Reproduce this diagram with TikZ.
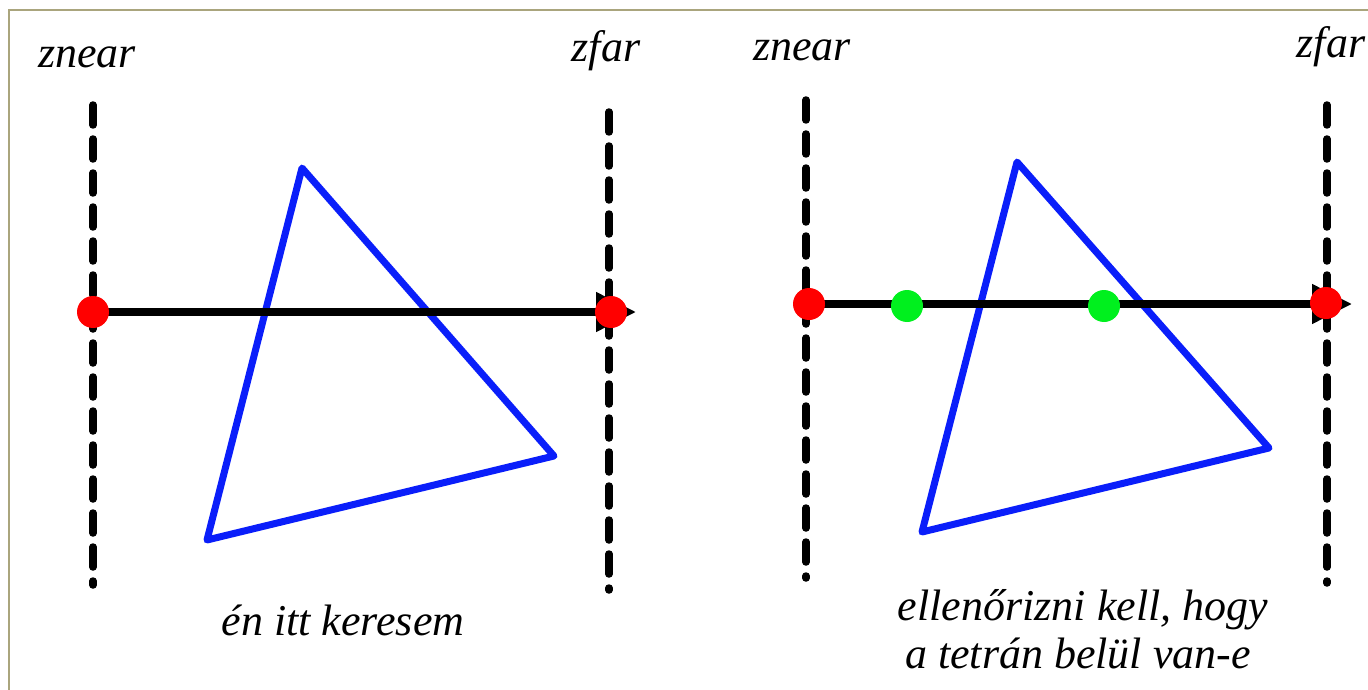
\documentclass[tikz,border=0pt]{standalone}
\usepackage{fontspec}
\setmainfont{Liberation Serif}
\usetikzlibrary{arrows.meta, positioning}

\definecolor{framegray}{RGB}{170,165,125}
\definecolor{triblue}{RGB}{10,30,250}
\definecolor{hitgreen}{RGB}{0,240,30}

\begin{document}
\begin{tikzpicture}[x=1pt, y=-1pt,
    lbl/.style={font=\fontsize{44}{52}\selectfont\itshape, anchor=base, inner sep=0pt},
    plane/.style={line width=7.5pt, dash pattern=on 20pt off 14pt, line cap=round},
    ray/.style={line width=8pt, -{Triangle[length=40pt, width=38pt]}},
    tri/.style={triblue, line width=7pt, line join=round},
    reddot/.style={circle, fill=red, minimum size=32pt, inner sep=0pt},
    greendot/.style={circle, fill=hitgreen, minimum size=32pt, inner sep=0pt}]
    \useasboundingbox (0,0) rectangle (1368,690);
    \draw[framegray, line width=2pt] (9,690) -- (9,10) -- (1368,10);

    % left: znear .. zfar
    \node[lbl] (znearL) at (87,68) {znear};
    \node[lbl] (zfarL) at (606,62) {zfar};
    \coordinate (nearTopL) at (93,105);
    \coordinate (nearBotL) at (93,585);
    \coordinate (farTopL) at (609,112);
    \coordinate (farBotL) at (609,590);
    \draw[plane] (nearTopL) -- (nearBotL);
    \draw[plane] (farTopL) -- (farBotL);

    \coordinate (aL) at (302,168);
    \coordinate (bL) at (554,456);
    \coordinate (cL) at (207,540);
    \draw[tri] (aL) -- (bL) -- (cL) -- cycle;

    \coordinate (rayStartL) at (93,312);
    \coordinate (rayEndL) at (636,312);
    \draw[ray] (rayStartL) -- (rayEndL);
    \node[reddot] (startL) at (rayStartL) {};
    \node[reddot] (endL) at (611,312) {};

    \node[lbl] (noteL) at (343,635) {én itt keresem};

    % right: znear .. zfar, with the two hits
    \node[lbl] (znearR) at (802,61) {znear};
    \node[lbl] (zfarR) at (1331,58) {zfar};
    \coordinate (nearTopR) at (806,100);
    \coordinate (nearBotR) at (806,578);
    \coordinate (farTopR) at (1327,105);
    \coordinate (farBotR) at (1327,583);
    \draw[plane] (nearTopR) -- (nearBotR);
    \draw[plane] (farTopR) -- (farBotR);

    \coordinate (aR) at (1017,162);
    \coordinate (bR) at (1269,448);
    \coordinate (cR) at (922,532);
    \draw[tri] (aR) -- (bR) -- (cR) -- cycle;

    \coordinate (rayStartR) at (806,304);
    \coordinate (rayEndR) at (1352,304);
    \draw[ray] (rayStartR) -- (rayEndR);
    \node[reddot] (startR) at (809,304) {};
    \node[reddot] (endR) at (1326,303) {};
    \node[greendot] (hitA) at (907,306) {};
    \node[greendot] (hitB) at (1104,306) {};

    \node[lbl] (noteR1) at (1083,620) {ellenőrizni kell, hogy};
    \node[lbl] (noteR2) at (1078,668) {a tetrán belül van-e};
\end{tikzpicture}
\end{document}
